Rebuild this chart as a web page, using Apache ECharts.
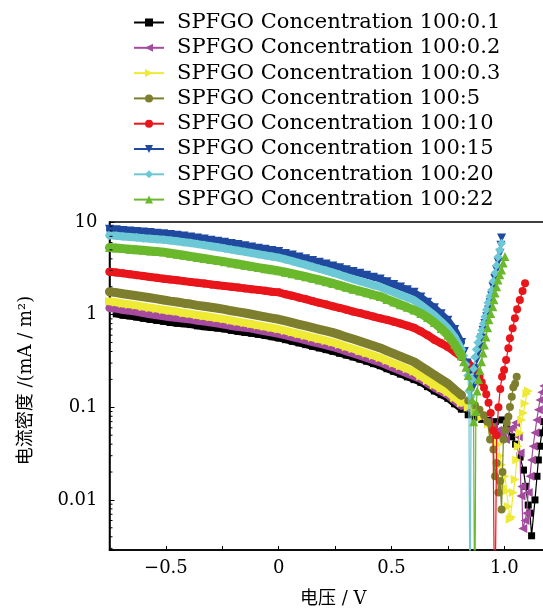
<!DOCTYPE html>
<html><head><meta charset="utf-8">
<script src="https://cdn.jsdelivr.net/npm/echarts@6/dist/echarts.min.js"></script>
<style>html,body{margin:0;padding:0;background:#fff}#c{width:543px;height:610px}</style>
</head><body><div id="c"></div>
<script>
// ---------- axes ----------
const X_RANGE = [-0.75, 1.18];
const X_TICK_STEP = 0.25;
const Y_RANGE = [0.00288, 10];
const Y_MINOR_TICKS = [0.003,0.004,0.005,0.006,0.007,0.008,0.009,
  0.02,0.03,0.04,0.05,0.06,0.07,0.08,0.09,
  0.2,0.3,0.4,0.5,0.6,0.7,0.8,0.9,
  2,3,4,5,6,7,8,9];
const X_NAME = '电压 / V';
const Y_NAME = '电流密度 /(mA / m²)';

// ---------- shared voltage grid (V) ----------
const V_GRID = [-0.75,-0.72,-0.69,-0.66,-0.63,-0.60,-0.57,-0.54,-0.51,-0.48,
  -0.45,-0.42,-0.39,-0.36,-0.33,-0.30,-0.27,-0.24,-0.21,-0.18,
  -0.15,-0.12,-0.09,-0.06,-0.03,0.00,0.03,0.06,0.09,0.12,
  0.15,0.18,0.21,0.24,0.27,0.30,0.33,0.36,0.39,0.42,
  0.45,0.48,0.51,0.54,0.57,0.60,0.63,0.66,0.69,0.72,
  0.75,0.78,0.81];

const NAMES = ['SPFGO Concentration 100:0.1','SPFGO Concentration 100:0.2','SPFGO Concentration 100:0.3',
  'SPFGO Concentration 100:5','SPFGO Concentration 100:10','SPFGO Concentration 100:15',
  'SPFGO Concentration 100:20','SPFGO Concentration 100:22'];

// ---------- current density (mA/m²) on V_GRID ----------
const J_0_1 = [null,1.02,0.986,0.968,0.942,0.915,0.889,0.868,0.846,0.823,
  0.808,0.796,0.781,0.757,0.741,0.728,0.715,0.701,0.677,0.658,
  0.644,0.630,0.613,0.595,0.578,0.560,0.537,0.516,0.495,0.475,
  0.455,0.437,0.419,0.402,0.383,0.366,0.349,0.331,0.314,0.296,
  0.281,0.261,0.244,0.228,0.213,0.199,0.186,0.167,0.150,0.137,
  0.125,0.109,0.096];
const J_0_2 = [1.18,1.16,1.12,1.10,1.07,1.04,1.01,0.986,0.961,0.935,
  0.922,0.905,0.887,0.860,0.840,0.820,0.799,0.779,0.752,0.735,
  0.722,0.706,0.683,0.661,0.642,0.622,0.597,0.573,0.550,0.528,
  0.506,0.486,0.466,0.447,0.425,0.401,0.381,0.360,0.341,0.322,
  0.305,0.284,0.265,0.248,0.231,0.216,0.202,0.181,0.163,0.149,
  0.136,0.118,0.104];
const J_0_3 = [1.39,1.36,1.32,1.29,1.26,1.22,1.19,1.16,1.13,1.10,
  1.08,1.04,1.02,0.989,0.966,0.942,0.918,0.895,0.864,0.840,
  0.816,0.793,0.767,0.743,0.721,0.699,0.671,0.644,0.618,0.593,
  0.568,0.546,0.524,0.502,0.477,0.451,0.428,0.404,0.383,0.362,
  0.343,0.319,0.298,0.279,0.260,0.243,0.217,0.195,0.175,0.160,
  0.146,0.127,0.112];
const J_5 = [1.77,1.73,1.68,1.64,1.60,1.56,1.52,1.48,1.44,1.40,
  1.37,1.33,1.30,1.26,1.23,1.20,1.17,1.14,1.10,1.07,
  1.04,1.01,0.977,0.946,0.918,0.891,0.855,0.820,0.787,0.755,
  0.724,0.695,0.667,0.640,0.608,0.575,0.545,0.515,0.488,0.461,
  0.437,0.407,0.380,0.355,0.331,0.309,0.277,0.249,0.223,0.200,
  0.180,0.155,0.135];
const J_10 = [2.91,2.85,2.79,2.73,2.67,2.61,2.55,2.50,2.44,2.39,
  2.35,2.30,2.25,2.21,2.17,2.12,2.08,2.04,2.00,1.96,
  1.92,1.88,1.85,1.81,1.77,1.74,1.66,1.60,1.53,1.47,
  1.40,1.34,1.29,1.23,1.18,1.13,1.08,1.04,0.995,0.953,
  0.914,0.88,0.84,0.80,0.76,0.72,0.66,0.60,0.537,0.490,
  0.447,0.398,0.351];
const J_15 = [8.35,8.25,8.12,8.0,7.9,7.78,7.68,7.56,7.46,7.33,
  7.2,7.04,6.90,6.71,6.55,6.37,6.21,6.04,5.86,5.70,
  5.53,5.38,5.22,5.07,4.93,4.79,4.58,4.39,4.19,4.01,
  3.84,3.67,3.52,3.36,3.21,3.06,2.92,2.79,2.67,2.54,
  2.43,2.27,2.12,1.99,1.86,1.74,1.55,1.36,1.19,1.02,
  0.87,0.69,0.50];
const J_20 = [7.18,7.10,6.98,6.88,6.79,6.69,6.60,6.50,6.42,6.30,
  6.19,6.05,5.93,5.77,5.63,5.48,5.34,5.19,5.04,4.90,
  4.76,4.63,4.49,4.36,4.24,4.12,3.94,3.78,3.60,3.45,
  3.28,3.13,2.99,2.84,2.70,2.55,2.42,2.30,2.19,2.08,
  1.99,1.86,1.74,1.63,1.53,1.43,1.27,1.12,0.98,0.84,
  0.71,0.57,0.42];
const J_22 = [5.30,5.23,5.16,5.09,5.02,4.95,4.87,4.80,4.73,4.60,
  4.49,4.37,4.26,4.14,4.04,3.93,3.83,3.73,3.62,3.52,
  3.41,3.32,3.22,3.13,3.05,2.97,2.87,2.77,2.67,2.57,
  2.47,2.37,2.27,2.17,2.07,1.97,1.88,1.80,1.72,1.64,
  1.57,1.46,1.37,1.28,1.20,1.12,1.03,0.93,0.82,0.71,
  0.60,0.48,0.36];

// ---------- tails beyond 0.81 V (voltage, current density) ----------
const TV_0_1 = [0.84,0.87,0.9,0.93,0.96,0.99,1.01,1.033,1.05,1.07,1.085,1.095,1.106,1.114,1.121,1.136,1.145,1.151,1.158,1.166,1.175];
const TJ_0_1 = [0.083,0.078,0.074,0.072,0.07,0.073,0.06,0.048,0.04,0.029,0.021,0.014,0.0088,0.0072,0.0041,0.01,0.018,0.027,0.038,0.053,0.07];
const TV_0_2 = [0.84,0.87,0.9,0.93,0.95,0.97,0.99,1.005,1.02,1.035,1.05,1.062,1.07,1.074,1.078,1.082,1.092,1.099,1.106,1.114,1.121,1.128,1.136,1.144,1.151,1.158,1.166,1.175];
const TJ_0_2 = [0.096,0.088,0.078,0.07,0.062,0.056,0.05,0.045,0.058,0.06,0.068,0.048,0.032,0.011,0.014,0.0049,0.006,0.0072,0.012,0.018,0.027,0.038,0.053,0.073,0.094,0.12,0.145,0.17];
const TV_0_3 = [0.84,0.87,0.9,0.93,0.95,0.965,0.975,0.981,0.988,0.995,1.003,1.01,1.018,1.026,1.033,1.04,1.048,1.055,1.062,1.07,1.077,1.085,1.092,1.1,1.107];
const TJ_0_3 = [0.1,0.09,0.078,0.066,0.056,0.047,0.04,0.03,0.024,0.014,0.018,0.0125,0.0085,0.0062,0.0065,0.012,0.0166,0.027,0.038,0.053,0.073,0.087,0.11,0.14,0.15];
const TV_5 = [0.84,0.87,0.89,0.91,0.925,0.937,0.944,0.952,0.959,0.966,0.974,0.981,0.988,0.992,0.996,1.003,1.011,1.018,1.025,1.033,1.04,1.048,1.055];
const TJ_5 = [0.118,0.105,0.094,0.082,0.07,0.045,0.062,0.035,0.018,0.025,0.012,0.016,0.0079,0.02,0.045,0.057,0.068,0.079,0.101,0.13,0.165,0.18,0.214];
const TV_10 = [0.84,0.85,0.86,0.87,0.88,0.89,0.90,0.91,0.92,0.93,0.94,0.95,0.958,0.966,0.974,0.982,0.99,0.999,1.008,1.018,1.025,1.037,1.047,1.057,1.069,1.081,1.092];
const TJ_10 = [0.302,0.282,0.269,0.251,0.234,0.214,0.186,0.162,0.138,0.112,0.087,0.056,0.0003,0.050,0.10,0.158,0.214,0.253,0.324,0.435,0.556,0.713,0.914,1.14,1.44,1.80,2.18];
const TV_15 = [0.823,0.835,0.845,0.853,0.86,0.866,0.872,0.878,0.885,0.892,0.899,0.906,0.914,0.922,0.93,0.937,0.944,0.95,0.958,0.966,0.973,0.981,0.985,0.988];
const TJ_15 = [0.40,0.30,0.23,0.19,0.16,0.2,0.26,0.324,0.39,0.45,0.56,0.68,0.8,0.95,1.12,1.34,1.6,2.0,2.45,3.03,3.7,4.6,5.6,6.7];
const TV_20 = [0.82,0.83,0.838,0.843,0.848,0.853,0.858,0.864,0.870,0.876,0.883,0.891,0.9,0.907,0.914,0.921,0.928,0.936,0.944,0.951,0.959,0.966,0.972,0.98,0.988];
const TJ_20 = [0.36,0.29,0.22,0.15,0.0003,0.13,0.2,0.26,0.35,0.42,0.50,0.58,0.68,0.8,0.95,1.13,1.34,1.58,1.85,2.3,2.82,3.4,4.2,5.0,5.9];
const TV_22 = [0.82,0.83,0.84,0.85,0.858,0.864,0.869,0.874,0.88,0.886,0.892,0.899,0.906,0.912,0.919,0.926,0.932,0.94,0.949,0.954,0.959,0.966,0.972,0.98,0.988,0.995,1.003];
const TJ_22 = [0.31,0.27,0.22,0.17,0.12,0.07,0.0003,0.09,0.15,0.2,0.25,0.31,0.386,0.47,0.575,0.72,0.88,1.03,1.22,1.45,1.71,2.0,2.37,2.7,3.03,3.6,4.23];

const GRID_J = [J_0_1, J_0_2, J_0_3, J_5, J_10, J_15, J_20, J_22];
const TAIL_V = [TV_0_1, TV_0_2, TV_0_3, TV_5, TV_10, TV_15, TV_20, TV_22];
const TAIL_J = [TJ_0_1, TJ_0_2, TJ_0_3, TJ_5, TJ_10, TJ_15, TJ_20, TJ_22];

// ---------- styles ----------
const COLORS = ['#000000','#a54b9f','#eeea35','#7e7f2e','#e8151b','#2049a0','#6cc8d5','#6ab82c'];
const SYMBOLS = ['rect','path://M0,5L10,0L10,10Z','path://M10,5L0,0L0,10Z','circle','circle',
  'path://M0,0L10,0L5,10Z','diamond','triangle'];
const SIZES = [7,9,9,8,8,9,9,9];
const BAND_W = [7,8,8,9,8,7,8,9];
const FONT = "'DejaVu Serif','Noto Sans CJK SC',serif";

function gridPairs(gj) {
  const out = [];
  V_GRID.forEach((v, i) => { if (gj[i] != null) out.push([v, gj[i]]); });
  return out;
}
function tailPairs(gj, tv, tj) {
  const last = V_GRID.length - 1;
  const out = [[V_GRID[last], gj[last]]];
  tv.forEach((v, i) => out.push([v, tj[i]]));
  return out;
}

const series = [];
// thin-line sparse parts (first, so the legend takes its icon from them)
NAMES.forEach((name, i) => series.push({
  type: 'line', name: name,
  data: tailPairs(GRID_J[i], TAIL_V[i], TAIL_J[i]),
  symbol: SYMBOLS[i], symbolSize: SIZES[i], showSymbol: true,
  lineStyle: { color: COLORS[i], width: 1.2 },
  itemStyle: { color: COLORS[i], borderWidth: 0 },
  clip: true, z: 2 + i, animation: false, emphasis: { disabled: true }
}));
// dense measured parts, where the markers merge into a band
NAMES.forEach((name, i) => series.push({
  type: 'line', name: name,
  data: gridPairs(GRID_J[i]),
  symbol: SYMBOLS[i], symbolSize: SIZES[i], showSymbol: true,
  lineStyle: { color: COLORS[i], width: BAND_W[i], cap: 'round', join: 'round' },
  itemStyle: { color: COLORS[i], borderWidth: 0 },
  clip: true, z: 2 + i, animation: false, emphasis: { disabled: true }
}));
// minor log ticks on the left axis
series.push({
  type: 'custom', name: 'minorTicks', silent: true, z: 20, clip: false,
  data: Y_MINOR_TICKS.map(v => [X_RANGE[0], v]),
  renderItem: (p, api) => {
    const pt = api.coord([api.value(0), api.value(1)]);
    return { type: 'line', shape: { x1: pt[0], y1: pt[1], x2: pt[0] + 3, y2: pt[1] },
      style: { stroke: '#000', lineWidth: 1 } };
  }
});

const chart = echarts.init(document.getElementById('c'), null, { renderer: 'canvas' });
chart.setOption({
  animation: false,
  backgroundColor: '#fff',
  grid: { left: 109.5, top: 222, width: 435.4, height: 328, outerBoundsMode: 'none',
    show: true, borderColor: '#000', borderWidth: 1.5, backgroundColor: 'transparent' },
  legend: {
    data: NAMES, orient: 'vertical', left: 133, top: 12, padding: 0,
    itemWidth: 30, itemHeight: 10, itemGap: 4.3,
    textStyle: { fontFamily: FONT, fontSize: 21, color: '#000', lineHeight: 18, padding: [0, 0, 0, 8] },
    selectedMode: false
  },
  xAxis: {
    type: 'value', min: X_RANGE[0], max: X_RANGE[1], interval: X_TICK_STEP, position: 'bottom',
    axisLine: { show: true, onZero: false, lineStyle: { color: '#000', width: 1.5 } },
    axisTick: { show: true, inside: true, length: 4, lineStyle: { color: '#000', width: 1 } },
    axisLabel: {
      fontFamily: FONT, fontSize: 18, color: '#000', margin: 9,
      formatter: v => {
        if (Math.abs(v * 2 - Math.round(v * 2)) > 1e-6) return '';
        if (Math.abs(v) < 1e-9) return '0';
        return (v < 0 ? '\u2212' : '') + Math.abs(v).toFixed(1);
      }
    },
    splitLine: { show: false },
    name: X_NAME, nameLocation: 'middle', nameGap: 40,
    nameTextStyle: { fontFamily: FONT, fontSize: 18, color: '#000', padding: [0, 0, 0, 12] }
  },
  yAxis: {
    type: 'log', logBase: 10, min: Y_RANGE[0], max: Y_RANGE[1],
    axisLine: { show: true, onZero: false, lineStyle: { color: '#000', width: 1.5 } },
    axisTick: { show: true, inside: true, length: 5, lineStyle: { color: '#000', width: 1 } },
    axisLabel: {
      fontFamily: FONT, fontSize: 18, color: '#000', margin: 12,
      formatter: v => {
        const e = Math.log10(v);
        if (Math.abs(e - Math.round(e)) > 1e-6) return '';
        const n = Math.round(e);
        return n >= 0 ? String(Math.pow(10, n)) : Math.pow(10, n).toFixed(-n);
      }
    },
    splitLine: { show: false },
    name: Y_NAME, nameLocation: 'middle', nameGap: 74,
    nameTextStyle: { fontFamily: FONT, fontSize: 18, color: '#000', padding: [0, 0, 0, 11] }
  },
  series: series
});
</script></body></html>
